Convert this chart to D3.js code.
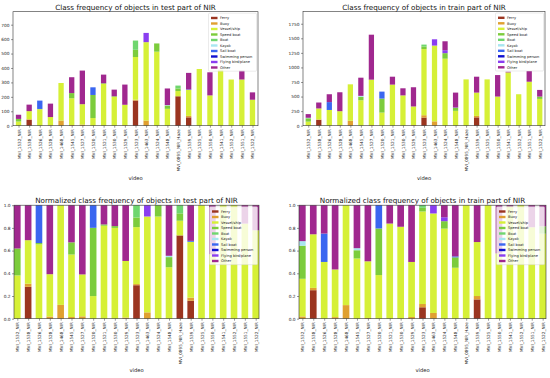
<!DOCTYPE html>
<html>
<head>
<meta charset="utf-8">
<script src="https://cdn.jsdelivr.net/npm/d3@7"></script>
<style>
  body { margin: 0; background: #fff; }
  svg { display: block; font-family: "DejaVu Sans", sans-serif; }
</style>
</head>
<body>
<div class="chart"></div>
<script>
const videos = ['MVI_1532_NIR', 'MVI_1538_NIR', 'MVI_1526_NIR', 'MVI_1528_NIR', 'MVI_1468_NIR',
  'MVI_1545_NIR', 'MVI_1527_NIR', 'MVI_1520_NIR', 'MVI_1521_NIR', 'MVI_1530_NIR', 'MVI_1529_NIR',
  'MVI_1523_NIR', 'MVI_1463_NIR', 'MVI_1524_NIR', 'MVI_1548_NIR', 'MVI_0895_NIR_Haze', 'MVI_1539_NIR',
  'MVI_1525_NIR', 'MVI_1550_NIR', 'MVI_1541_NIR', 'MVI_1552_NIR', 'MVI_1551_NIR', 'MVI_1522_NIR'];

const classes = ['Ferry', 'Buoy', 'Vessel/ship', 'Speed boat', 'Boat', 'Kayak', 'Sail boat',
  'Swimming person', 'Flying bird/plane', 'Other'];
const classColors = ['#9b3520', '#e0a030', '#d6f037', '#7ccc3c', '#6fd66f', '#a8e6f0', '#3a66f0',
  '#1010d0', '#8a3ef0', '#a0288f'];

// test split, counts per class
const testFerry    = [0, 41, 0, 0, 0, 0, 0, 0, 0, 0, 0, 174, 0, 0, 0, 204, 58, 0, 0, 0, 0, 0, 0];
const testBuoy     = [0, 4, 0, 3, 36, 5, 8, 0, 0, 0, 3, 6, 36, 0, 0, 0, 10, 0, 0, 0, 0, 0, 0];
const testVessel   = [29, 56, 114, 57, 260, 185, 141, 53, 290, 200, 142, 296, 543, 513, 117, 36, 180, 393, 210, 389, 320, 320, 180];
const testSpeed    = [18, 0, 2, 0, 0, 36, 0, 160, 4, 4, 0, 50, 0, 57, 23, 18, 0, 0, 0, 0, 0, 0, 0];
const testBoat     = [0, 0, 0, 0, 0, 0, 0, 0, 0, 0, 0, 64, 0, 0, 0, 20, 0, 0, 0, 0, 0, 0, 0];
const testKayak    = [0, 0, 0, 0, 0, 0, 0, 0, 0, 0, 0, 0, 0, 0, 3, 0, 0, 0, 0, 0, 0, 0, 0];
const testSail     = [0, 0, 58, 0, 0, 0, 0, 53, 0, 0, 0, 0, 0, 0, 0, 0, 3, 0, 0, 0, 0, 0, 0];
const testSwimming = [0, 0, 0, 0, 0, 0, 0, 0, 0, 0, 0, 0, 0, 0, 0, 0, 0, 0, 0, 0, 0, 0, 0];
const testFlying   = [0, 0, 0, 0, 0, 0, 0, 0, 0, 0, 0, 0, 64, 0, 0, 0, 0, 0, 0, 0, 0, 0, 0];
const testOther    = [29, 45, 0, 93, 0, 110, 233, 0, 60, 46, 140, 0, 0, 0, 115, 0, 115, 0, 160, 0, 0, 62, 51];

// train split, counts per class
const trainFerry    = [0, 100, 0, 0, 0, 0, 0, 0, 0, 0, 0, 140, 0, 0, 0, 0, 143, 0, 0, 0, 0, 0, 0];
const trainBuoy     = [4, 8, 0, 8, 85, 0, 10, 0, 0, 0, 10, 40, 75, 0, 0, 0, 25, 0, 0, 0, 0, 0, 0];
const trainVessel   = [66, 188, 270, 241, 625, 437, 780, 225, 705, 520, 320, 1135, 1300, 1150, 255, 795, 400, 795, 500, 915, 540, 755, 460];
const trainSpeed    = [58, 0, 0, 0, 0, 60, 0, 240, 0, 0, 0, 45, 0, 95, 52, 0, 0, 0, 0, 0, 0, 0, 40];
const trainBoat     = [0, 0, 0, 0, 0, 0, 0, 0, 0, 0, 0, 32, 0, 0, 0, 0, 0, 0, 0, 0, 0, 0, 0];
const trainKayak    = [8, 0, 0, 0, 0, 15, 0, 0, 0, 0, 0, 0, 0, 0, 0, 0, 0, 0, 0, 0, 0, 0, 0];
const trainSail     = [0, 0, 135, 0, 0, 0, 0, 120, 0, 0, 0, 0, 0, 0, 5, 0, 0, 0, 0, 0, 0, 0, 0];
const trainSwimming = [0, 0, 0, 0, 0, 0, 0, 0, 0, 0, 0, 0, 0, 0, 0, 0, 0, 0, 0, 0, 0, 0, 0];
const trainFlying   = [0, 0, 0, 0, 0, 0, 0, 0, 0, 0, 0, 0, 108, 50, 0, 0, 0, 0, 0, 0, 0, 0, 0];
const trainOther    = [63, 102, 135, 325, 0, 312, 772, 0, 136, 122, 330, 0, 0, 154, 256, 0, 273, 0, 369, 11, 0, 182, 114];

const countTicks = [0, 100, 200, 300, 400, 500, 600, 700];
const trainTicks = [0, 250, 500, 750, 1000, 1250, 1500, 1750];
const normTicks = [0, 0.2, 0.4, 0.6, 0.8, 1.0];

const testSeries = [testFerry, testBuoy, testVessel, testSpeed, testBoat, testKayak, testSail, testSwimming, testFlying, testOther];
const trainSeries = [trainFerry, trainBuoy, trainVessel, trainSpeed, trainBoat, trainKayak, trainSail, trainSwimming, trainFlying, trainOther];

function buildRows(series, normalize) {
  return videos.map((v, i) => {
    const row = { video: v, idx: i };
    const total = d3.sum(series, s => s[i]);
    classes.forEach((c, k) => { row[c] = normalize ? series[k][i] / total : series[k][i]; });
    return row;
  });
}

const svg = d3.select('.chart').append('svg')
  .attr('width', 550)
  .attr('height', 378)
  .attr('viewBox', '0 0 550 378');

const panels = [
  { title: 'Class frequency of objects in test part of NIR', series: testSeries, norm: false,
    left: 13, right: 258, top: 11.7, bottom: 125.7, yMax: 790, ticks: countTicks, fmt: d3.format('d'),
    pad: 0.52, barW: 0.5, titleY: 9.6, xlabelY: 179.5 },
  { title: 'Class frequency of objects in train part of NIR', series: trainSeries, norm: false,
    left: 303, right: 545, top: 11.5, bottom: 125.7, yMax: 1960, ticks: trainTicks, fmt: d3.format('d'),
    pad: 0.5, barW: 0.5, titleY: 9.6, xlabelY: 179.5 },
  { title: 'Normalized class frequency of objects in test part of NIR', series: testSeries, norm: true,
    left: 14, right: 259, top: 205.2, bottom: 318.7, yMax: 1, ticks: normTicks, fmt: d3.format('.1f'),
    pad: 0.305, barW: 0.61, titleY: 202.5, xlabelY: 372 },
  { title: 'Normalized class frequency of objects in train part of NIR', series: trainSeries, norm: true,
    left: 299, right: 546, top: 205.2, bottom: 318.7, yMax: 1, ticks: normTicks, fmt: d3.format('.1f'),
    pad: 0.305, barW: 0.61, titleY: 202.5, xlabelY: 372 }
];

panels.forEach(p => {
  const rows = buildRows(p.series, p.norm);
  const stacked = d3.stack().keys(classes)(rows);

  const x = d3.scaleLinear()
    .domain([-p.pad, videos.length - 1 + p.pad])
    .range([p.left, p.right]);
  const y = d3.scaleLinear()
    .domain([0, p.yMax])
    .range([p.bottom, p.top]);
  const bw = x(p.barW) - x(0);

  const $g = svg.append('g');

  $g.append('g')
    .selectAll('g')
    .data(stacked)
    .enter()
    .append('g')
    .attr('fill', (d, i) => classColors[i])
    .selectAll('rect')
    .data(d => d)
    .enter()
    .append('rect')
    .attr('x', d => x(d.data.idx) - bw / 2)
    .attr('width', bw)
    .attr('y', d => y(d[1]))
    .attr('height', d => Math.max(0, y(d[0]) - y(d[1])));

  // frame
  $g.append('rect')
    .attr('x', p.left)
    .attr('y', p.top)
    .attr('width', p.right - p.left)
    .attr('height', p.bottom - p.top)
    .attr('fill', 'none')
    .attr('stroke', '#333')
    .attr('stroke-width', 0.6);

  const yAxis = d3.axisLeft(y).tickValues(p.ticks).tickFormat(p.fmt).tickSize(2).tickPadding(1.5);
  $g.append('g')
    .attr('transform', `translate(${p.left},0)`)
    .call(yAxis)
    .call(a => a.select('.domain').remove())
    .call(a => a.selectAll('line').attr('stroke', '#333').attr('stroke-width', 0.5))
    .call(a => a.selectAll('text').attr('font-size', 4.3).attr('fill', '#222').attr('font-family', 'DejaVu Sans'));

  const xAxis = d3.axisBottom(x).tickValues(d3.range(videos.length)).tickFormat(i => videos[i]).tickSize(2);
  $g.append('g')
    .attr('transform', `translate(0,${p.bottom})`)
    .call(xAxis)
    .call(a => a.select('.domain').remove())
    .call(a => a.selectAll('line').attr('stroke', '#333').attr('stroke-width', 0.5))
    .call(a => a.selectAll('text')
      .attr('font-size', 4.2)
      .attr('fill', '#222')
      .attr('font-family', 'DejaVu Sans')
      .attr('text-anchor', 'end')
      .attr('dy', null)
      .attr('y', 0)
      .attr('transform', 'translate(1.5,3.5) rotate(-90)'));

  $g.append('text')
    .attr('x', (p.left + p.right) / 2)
    .attr('y', p.titleY)
    .attr('text-anchor', 'middle')
    .attr('font-size', 7.2)
    .attr('fill', '#111')
    .text(p.title);

  $g.append('text')
    .attr('x', (p.left + p.right) / 2)
    .attr('y', p.xlabelY)
    .attr('text-anchor', 'middle')
    .attr('font-size', 5.2)
    .attr('fill', '#222')
    .text('video');

  // legend
  const lw = 48, lh = 58;
  const lx = p.right - lw - 1.5, ly = p.top + 1.5;
  const $leg = $g.append('g').attr('transform', `translate(${lx},${ly})`);
  $leg.append('rect')
    .attr('width', lw)
    .attr('height', lh)
    .attr('rx', 1)
    .attr('fill', 'rgba(255,255,255,0.8)')
    .attr('stroke', '#ccc')
    .attr('stroke-width', 0.4);
  classes.forEach((c, k) => {
    $leg.append('rect')
      .attr('x', 2.5)
      .attr('y', 3.6 + k * 5.5)
      .attr('width', 6.5)
      .attr('height', 2.4)
      .attr('fill', classColors[k]);
    $leg.append('text')
      .attr('x', 11.5)
      .attr('y', 6 + k * 5.5)
      .attr('font-size', 3.6)
      .attr('fill', '#222')
      .text(c);
  });
});
</script>
</body>
</html>
